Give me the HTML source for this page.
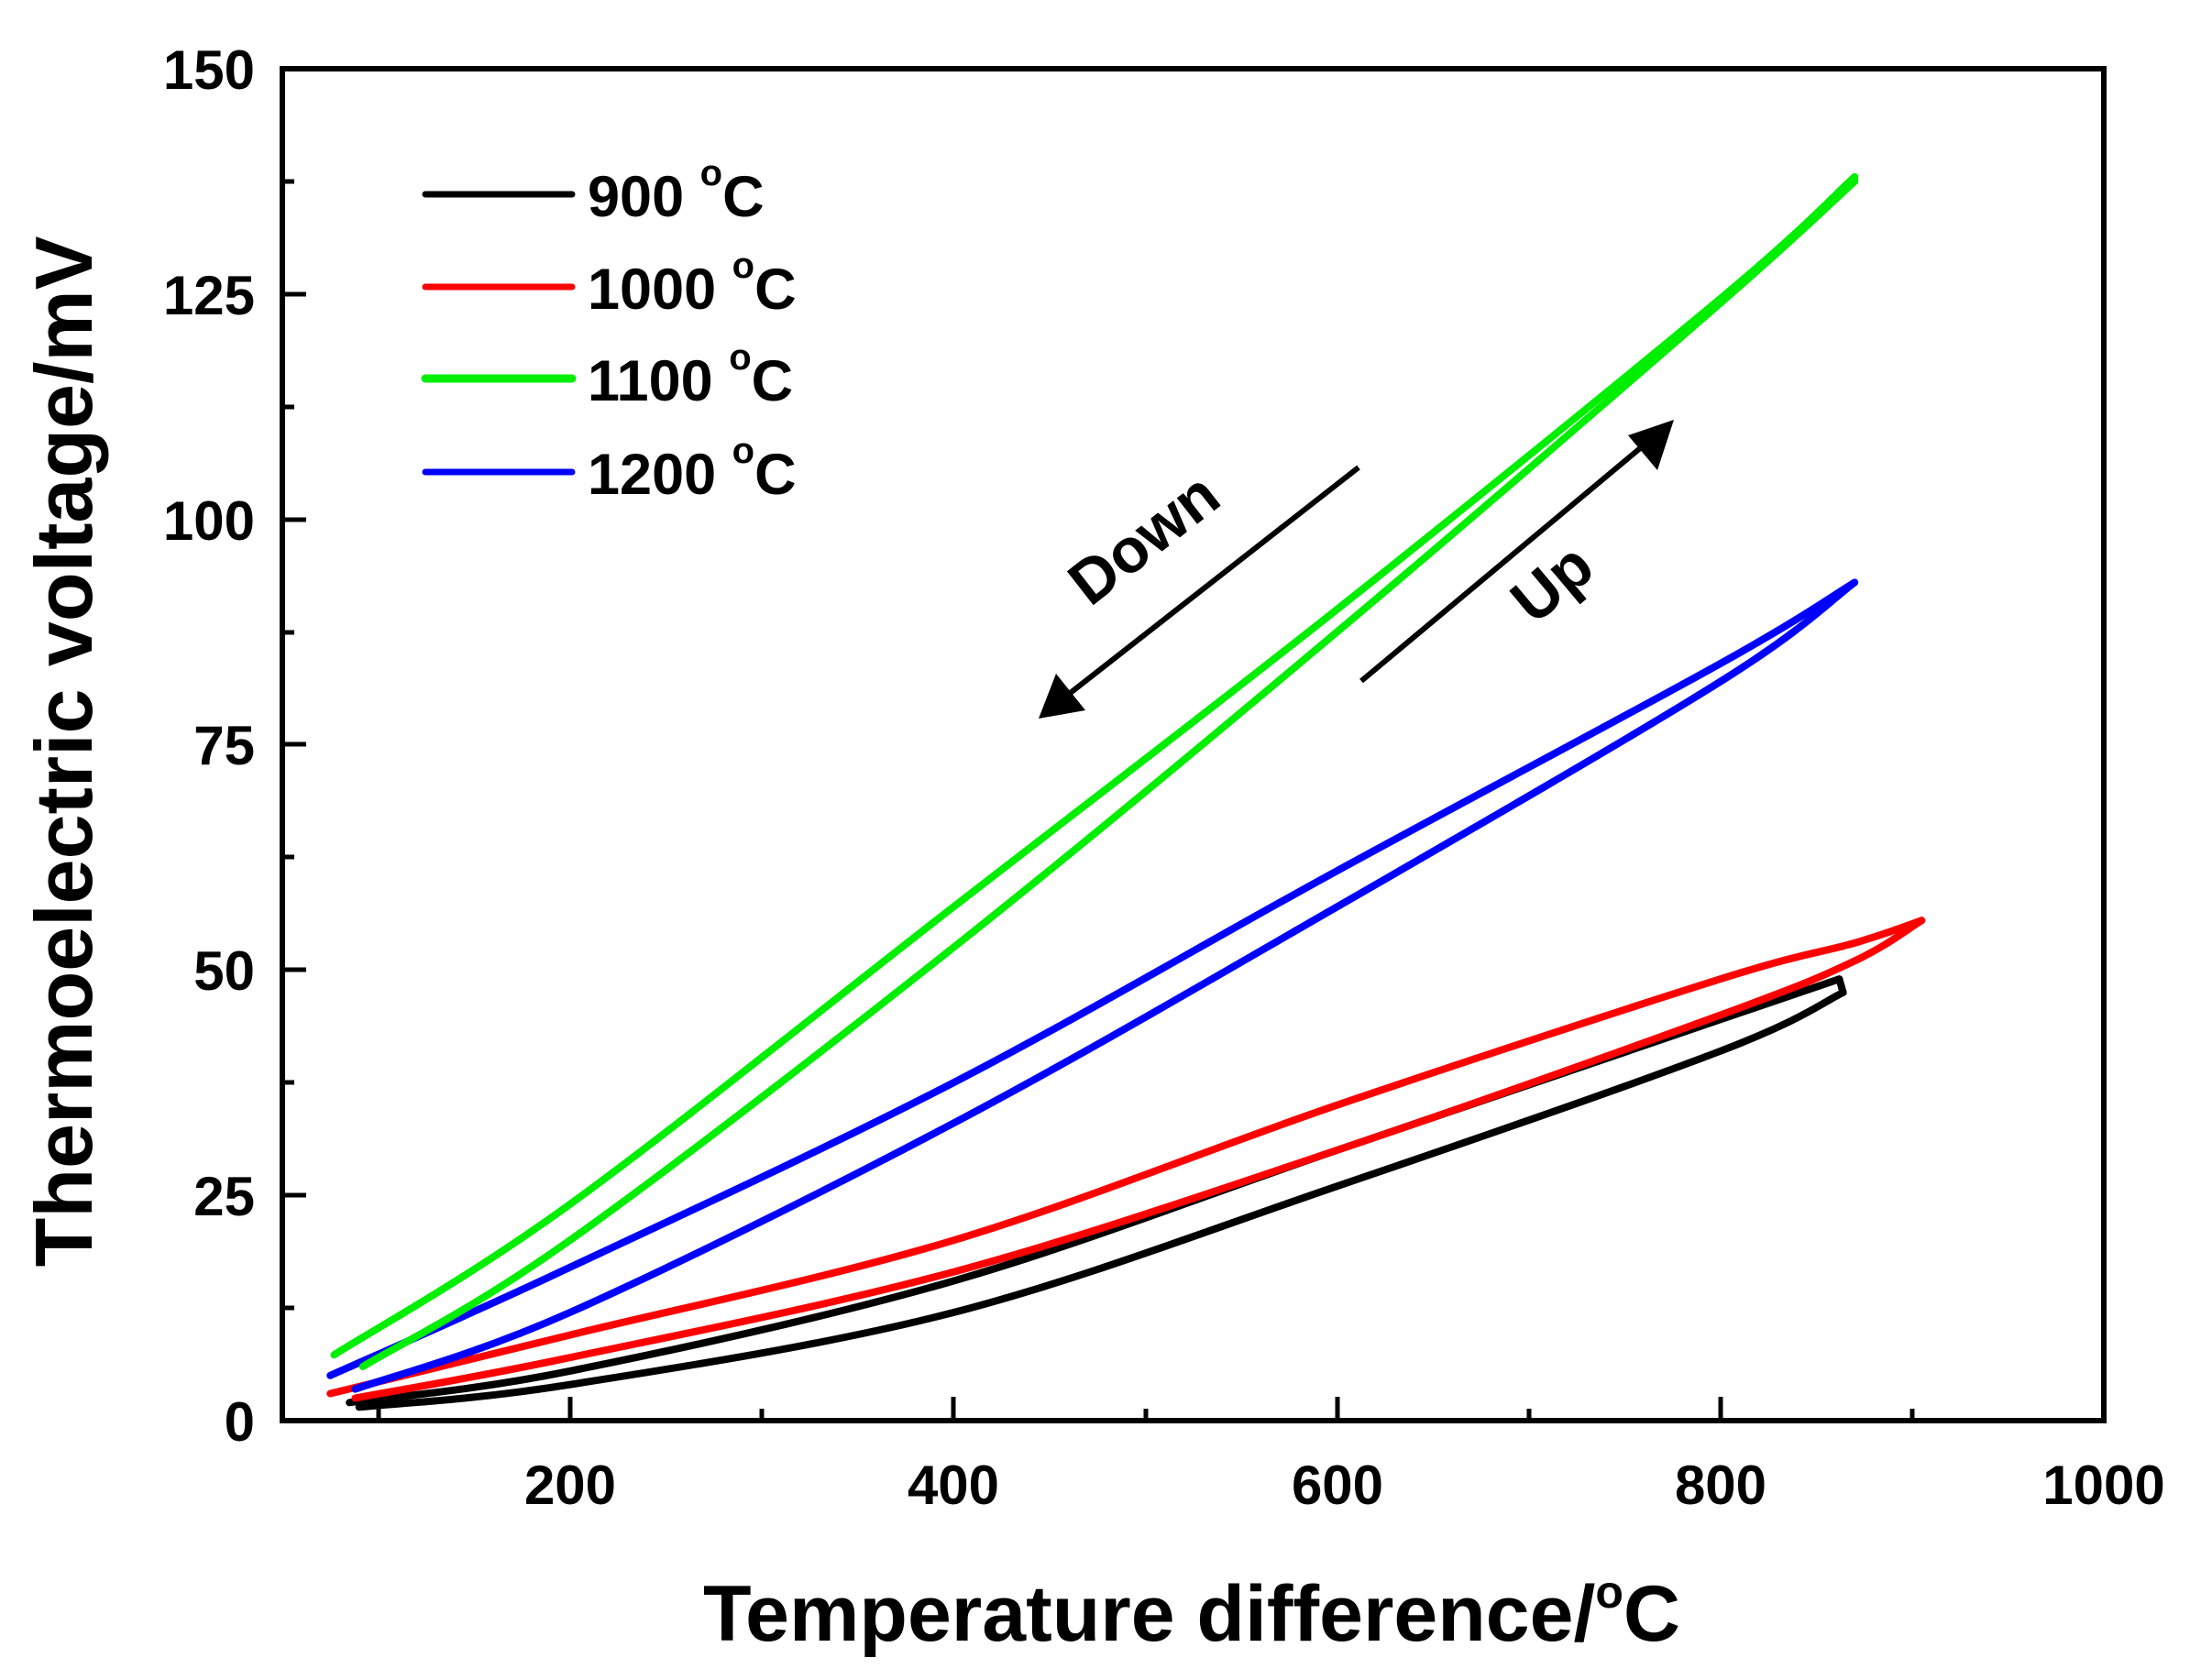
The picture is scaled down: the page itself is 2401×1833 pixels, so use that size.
<!DOCTYPE html>
<html><head><meta charset="utf-8"><style>
html,body{margin:0;padding:0;background:#fff;}
svg{display:block;}
text{font-family:"Liberation Sans",Arial,sans-serif;font-weight:bold;fill:#000;}
</style></head><body>
<svg id="s" width="2401" height="1833" viewBox="0 0 2401 1833" xmlns="http://www.w3.org/2000/svg">
<rect width="2401" height="1833" fill="#fff"/>
<g stroke="#000" stroke-width="5" fill="none">
<line x1="622" y1="1550" x2="622" y2="1524"/>
<line x1="1040" y1="1550" x2="1040" y2="1524"/>
<line x1="1459" y1="1550" x2="1459" y2="1524"/>
<line x1="1877" y1="1550" x2="1877" y2="1524"/>
<line x1="413" y1="1550" x2="413" y2="1537"/>
<line x1="831" y1="1550" x2="831" y2="1537"/>
<line x1="1250" y1="1550" x2="1250" y2="1537"/>
<line x1="1668" y1="1550" x2="1668" y2="1537"/>
<line x1="2086" y1="1550" x2="2086" y2="1537"/>
<line x1="308" y1="1304" x2="334" y2="1304"/>
<line x1="308" y1="1058" x2="334" y2="1058"/>
<line x1="308" y1="812" x2="334" y2="812"/>
<line x1="308" y1="567" x2="334" y2="567"/>
<line x1="308" y1="321" x2="334" y2="321"/>
<line x1="308" y1="1427" x2="321" y2="1427"/>
<line x1="308" y1="1181" x2="321" y2="1181"/>
<line x1="308" y1="935" x2="321" y2="935"/>
<line x1="308" y1="690" x2="321" y2="690"/>
<line x1="308" y1="444" x2="321" y2="444"/>
<line x1="308" y1="198" x2="321" y2="198"/>
</g>
<rect x="308" y="75" width="1987" height="1475" fill="none" stroke="#000" stroke-width="6"/>

<g font-size="60" text-anchor="end">
<text x="278" y="1572">0</text>
<text x="278" y="1326">25</text>
<text x="278" y="1080">50</text>
<text x="278" y="834">75</text>
<text x="278" y="589">100</text>
<text x="278" y="343">125</text>
<text x="278" y="97">150</text>
</g>
<g font-size="60" text-anchor="middle">
<text x="622" y="1641">200</text>
<text x="1040" y="1641">400</text>
<text x="1459" y="1641">600</text>
<text x="1877" y="1641">800</text>
<text x="2295" y="1641">1000</text>
</g>
<text x="1300" y="1790" font-size="86" text-anchor="middle">Temperature difference/<tspan font-size="50" dy="-36">o</tspan><tspan dy="36">C</tspan></text>
<text transform="translate(100,820) rotate(-90)" font-size="88" text-anchor="middle">Thermoelectric voltage/mV</text>

<g id="series" fill="none" stroke-width="8" stroke-linejoin="round" stroke-linecap="round"></g>

<g stroke="#000" stroke-width="6" fill="#000">
<line x1="1482" y1="510" x2="1165" y2="758"/>
<polygon points="1133,784 1152,735 1184,775" stroke="none"/>
<line x1="1485" y1="743" x2="1800" y2="480"/>
<polygon points="1826,458 1776,475 1808,513" stroke="none"/>
</g>
<text transform="translate(1262,606) rotate(-38)" font-size="68" text-anchor="middle">Down</text>
<text transform="translate(1708,654) rotate(-40)" font-size="68" text-anchor="middle">Up</text>

<g stroke-width="7" stroke-linecap="round">
<line x1="464" y1="212" x2="624" y2="212" stroke="#000"/>
<line x1="464" y1="313" x2="624" y2="313" stroke="#ff0000"/>
<line x1="464" y1="413" x2="624" y2="413" stroke="#00ee00" stroke-width="9"/>
<line x1="464" y1="515" x2="624" y2="515" stroke="#0000ff"/>
</g>
<g font-size="63">
<text x="641" y="236">900 <tspan font-size="40" dy="-34">o</tspan><tspan dy="34">C</tspan></text>
<text x="641" y="337">1000 <tspan font-size="40" dy="-34">o</tspan><tspan dy="34">C</tspan></text>
<text x="641" y="437">1100 <tspan font-size="40" dy="-34">o</tspan><tspan dy="34">C</tspan></text>
<text x="641" y="539">1200 <tspan font-size="40" dy="-34">o</tspan><tspan dy="34">C</tspan></text>
</g>
</svg>
<script>
(function(){
function X(t){return 308+(t-50)*2.0916;}
function Y(v){return 1550-v*9.833;}
function path(pts){
  var p=pts.map(function(a){return [X(a[0]),Y(a[1])];});
  var d="M"+p[0][0].toFixed(1)+","+p[0][1].toFixed(1);
  for(var i=0;i<p.length-1;i++){
    var p0=p[i-1]||p[i],p1=p[i],p2=p[i+1],p3=p[i+2]||p2;
    var c1=[p1[0]+(p2[0]-p0[0])/6,p1[1]+(p2[1]-p0[1])/6];
    var c2=[p2[0]-(p3[0]-p1[0])/6,p2[1]-(p3[1]-p1[1])/6];
    d+=" C"+c1[0].toFixed(1)+","+c1[1].toFixed(1)+" "+c2[0].toFixed(1)+","+c2[1].toFixed(1)+" "+p2[0].toFixed(1)+","+p2[1].toFixed(1);
  }
  return d;
}
var S=[
 ["#000",[[85,2],[200,5.5],[400,15.5],[600,30],[800,44.5],[862,49]],[[90,1.5],[200,4],[400,12],[600,26],[800,41],[864,47.5]],[[862,49],[864,47.5]]],
 ["#ff0000",[[75,3],[200,9.5],[400,20],[600,35],[800,49],[870,53],[905,55.5]],[[88,2.5],[200,7],[400,16.5],[600,30],[800,45],[870,51],[905,55.5]],null],
 ["#0000ff",[[75,5],[200,17],[400,37.5],[600,61],[800,84],[870,93]],[[88,3.5],[200,12],[400,33],[600,57],[800,82],[870,93]],null],
 ["#00ee00",[[77,7.3],[200,24],[400,57],[600,90],[800,124.5],[870,138]],[[92,6],[200,20],[400,52.5],[600,87.5],[800,124],[870,137.5]],[[870,138],[870,137.5]]]
];
var g=document.getElementById("series");
function add(d,c){var e=document.createElementNS("http://www.w3.org/2000/svg","path");e.setAttribute("d",d);e.setAttribute("stroke",c);g.appendChild(e);}
S.forEach(function(s){
  add(path(s[1]),s[0]);add(path(s[2]),s[0]);
  if(s[3])add(path(s[3]),s[0]);
});
})();
</script>
</body></html>
